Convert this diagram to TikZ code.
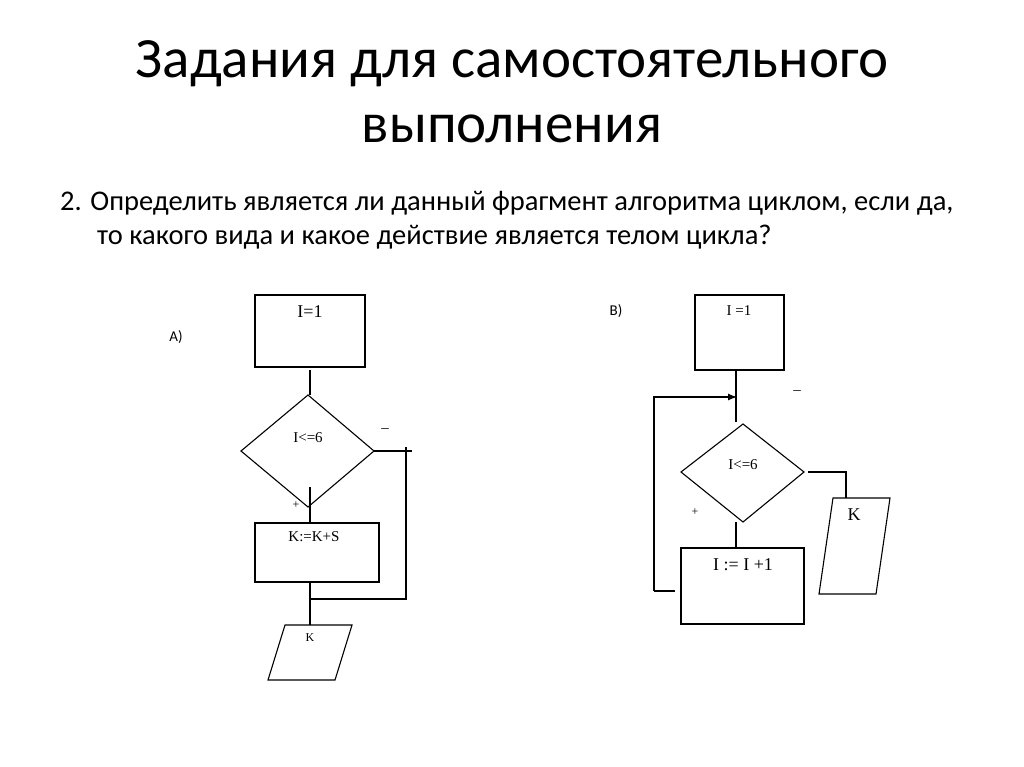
\documentclass[tikz,border=0pt]{standalone}
\usepackage{fontspec}
\usetikzlibrary{arrows.meta}
\setmainfont{Carlito}
\newfontfamily\tms{Liberation Serif}
\begin{document}
\begin{tikzpicture}[x=1pt,y=-1pt,
  ln/.style={draw=black,line width=1.1pt},
  ft/.style={font=\tms\fontsize{15}{17}\selectfont,inner sep=0pt},
  fs/.style={font=\tms\fontsize{12}{14}\selectfont,inner sep=0pt},
  fl/.style={font=\tms\fontsize{18}{20}\selectfont,inner sep=0pt},
  lb/.style={font=\fontsize{15}{17}\selectfont,inner sep=0pt}]
\useasboundingbox[fill=white] (0,0) rectangle (1024,767);
\node[font=\fontsize{57}{62}\selectfont,inner sep=0pt] (t1) at (512,64) {Задания для самостоятельного};
\node[font=\fontsize{57}{62}\selectfont,inner sep=0pt] (t2) at (512,129) {выполнения};
\node[font=\fontsize{28.5}{32}\selectfont,anchor=west,inner sep=0pt] (p1) at (60,203) {2. Определить является ли данный фрагмент алгоритма циклом, если да,};
\node[font=\fontsize{28.5}{32}\selectfont,anchor=west,inner sep=0pt] (p2) at (97,237) {то какого вида и какое действие является телом цикла?};
% A
\node[lb] (la) at (176,337) {А)};
\draw[ln] (255,295) rectangle (365,367);
\node[fl] (a1) at (310,312) {I=1};
\draw[ln] (310,370) -- (310,395);
\draw[ln] (241,451) -- (308,395) -- (374,451) -- (308,507) -- cycle;
\node[ft] (a2) at (308,438) {I<=6};
\draw[ln] (310,487) -- (310,523);
\node[fs] (ap) at (296,505) {+};
\draw[ln] (255,523) rectangle (379,582);
\node[ft] (a3) at (314,537) {K:=K+S};
\draw[ln] (310,582) -- (310,625);
\draw[ln] (310,599) -- (406,599) -- (406,447);
\draw[ln] (374,451) -- (412,451);
\node[ft] (am) at (385,431) {–};
\draw[ln] (285,625) -- (352,625) -- (335,680) -- (268,680) -- cycle;
\node[fs] (a4) at (310,638) {K};
% B
\node[lb] (lb) at (616,311) {В)};
\draw[ln] (695,295) rectangle (784,370);
\node[ft] (b1) at (739,311) {I =1};
\draw[ln] (736,370) -- (736,422);
\draw[ln,-{Latex[length=9pt,width=7pt]}] (654,591) -- (654,397) -- (737,397);
\draw[ln] (654,591) -- (675,591);
\draw[ln] (681,472) -- (743,424) -- (804,472) -- (743,522) -- cycle;
\node[ft] (b2) at (743,465) {I<=6};
\draw[ln] (736,522) -- (736,548);
\node[fs] (bp) at (695,512) {+};
\draw[ln] (681,548) rectangle (804,624);
\node[fl] (b3) at (743,565) {I := I +1};
\draw[ln] (808,472) -- (846,472) -- (846,498);
\node[ft] (bm) at (797,393) {–};
\draw[ln] (833,498) -- (890,498) -- (876,594) -- (819,594) -- cycle;
\node[fl] (b4) at (854,515) {K};
\end{tikzpicture}
\end{document}
